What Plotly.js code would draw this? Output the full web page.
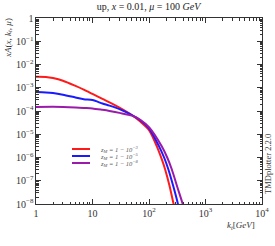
<!DOCTYPE html>
<html><head><meta charset="utf-8">
<script src="https://cdn.plot.ly/plotly-3.0.1.min.js"></script>
<style>html,body{margin:0;padding:0;background:#fff}#c{width:275px;height:246px}</style>
</head><body><div id="c"></div>
<script>
const ktRed = [1, 1.5, 2, 3, 5, 7, 10, 15, 20, 30, 50, 70, 100, 137, 170, 192, 230, 270, 300];
const valRed = [2.95e-3, 2.9e-3, 2.6e-3, 2.0e-3, 1.2e-3, 8.3e-4, 5.4e-4, 3.3e-4, 2.35e-4, 1.4e-4, 6.6e-5, 3.5e-5, 1.5e-5, 3.1e-6, 7.9e-7, 3.2e-7, 6.3e-8, 1.1e-8, 3.2e-9];
const ktBlue = [1, 1.5, 2, 3, 5, 7, 10, 15, 20, 30, 50, 70, 100, 150, 185, 219, 270, 322, 350];
const valBlue = [6.5e-4, 6.3e-4, 5.9e-4, 5.0e-4, 3.8e-4, 3.2e-4, 2.95e-4, 2.1e-4, 1.7e-4, 1.2e-4, 6.6e-5, 4.0e-5, 1.8e-5, 3.1e-6, 1.0e-6, 3.2e-7, 5.6e-8, 1.1e-8, 4e-9];
const ktPurple = [1, 2, 3, 5, 7, 10, 15, 20, 30, 50, 70, 100, 167, 210, 252, 320, 390, 420];
const valPurple = [1.48e-4, 1.51e-4, 1.48e-4, 1.41e-4, 1.35e-4, 1.29e-4, 1.12e-4, 1.0e-4, 8.3e-5, 6.3e-5, 4.2e-5, 2.0e-5, 3.1e-6, 1.0e-6, 3.2e-7, 5.0e-8, 1.1e-8, 5e-9];
const seriesNames = ['z<sub>M</sub> = 1 − 10<sup>−3</sup>', 'z<sub>M</sub> = 1 − 10<sup>−5</sup>', 'z<sub>M</sub> = 1 − 10<sup>−8</sup>'];
const colors = ['#ff1a1a', '#1a1aff', '#9a1aaa'];

const F = 'Liberation Serif, DejaVu Serif, serif';
const traces = [[ktRed, valRed], [ktBlue, valBlue], [ktPurple, valPurple]].map((d, i) => ({
  x: d[0], y: d[1], type: 'scatter', mode: 'lines', name: seriesNames[i],
  line: {color: colors[i], width: 2, shape: 'spline', smoothing: 0.8}, showlegend: false
}));

const axisBase = {
  type: 'log', showgrid: false, zeroline: false, showline: true, linecolor: '#333', linewidth: 1,
  mirror: 'allticks', ticks: 'inside', ticklen: 5, tickcolor: '#333', tickwidth: 1,
  dtick: 1, exponentformat: 'power', tickfont: {family: F, size: 8, color: '#333'},
  minor: {ticks: 'inside', ticklen: 2.5, tickcolor: '#333', dtick: 'D1', showgrid: false}
};

const shapes = [], annotations = [];
const legY = [149, 156, 163];
legY.forEach((py, i) => {
  const yp = 1 - (py - 18) / 186;
  shapes.push({type: 'line', xref: 'paper', yref: 'paper', x0: (72 - 36) / 226, x1: (90 - 36) / 226, y0: yp, y1: yp, line: {color: colors[i], width: 2}});
  annotations.push({xref: 'paper', yref: 'paper', x: (98 - 36) / 226, y: yp, xanchor: 'left', yanchor: 'middle', showarrow: false,
    text: '<i>' + seriesNames[i] + '</i>', font: {family: F, size: 6.5, color: '#555'}});
});
annotations.push({xref: 'paper', yref: 'paper', x: -0.125, y: 1.01, xanchor: 'center', yanchor: 'top', textangle: -90, showarrow: false,
  text: '<i>xA</i>(<i>x</i>, <i>k<sub>t</sub></i>, <i>μ</i>)', font: {family: F, size: 9, color: '#333'}});
annotations.push({xref: 'paper', yref: 'paper', x: (257 - 36) / 226, y: -0.075, xanchor: 'right', yanchor: 'top', showarrow: false,
  text: '<i>k<sub>t</sub></i>[<i>GeV</i>]', font: {family: F, size: 9, color: '#333'}});
annotations.push({xref: 'paper', yref: 'paper', x: (268 - 36) / 226, y: 1 - (164 - 18) / 186, xanchor: 'center', yanchor: 'middle', textangle: -90, showarrow: false,
  text: 'TMDplotter 2.2.0', font: {family: F, size: 8.5, color: '#333'}});

const layout = {
  width: 275, height: 246, margin: {l: 36, r: 13, t: 18, b: 42},
  paper_bgcolor: '#fff', plot_bgcolor: '#fff', showlegend: false,
  title: {text: 'up, <i>x</i> = 0.01, <i>μ</i> = 100 <i>GeV</i>', font: {family: F, size: 10, color: '#222'}, x: 0.54, xanchor: 'center', y: 0.975, yanchor: 'middle'},
  xaxis: Object.assign({}, axisBase, {range: [0, 4]}),
  yaxis: Object.assign({}, axisBase, {range: [-8, 0]}),
  shapes: shapes, annotations: annotations
};
Plotly.newPlot('c', traces, layout, {staticPlot: true, displayModeBar: false});
</script></body></html>
